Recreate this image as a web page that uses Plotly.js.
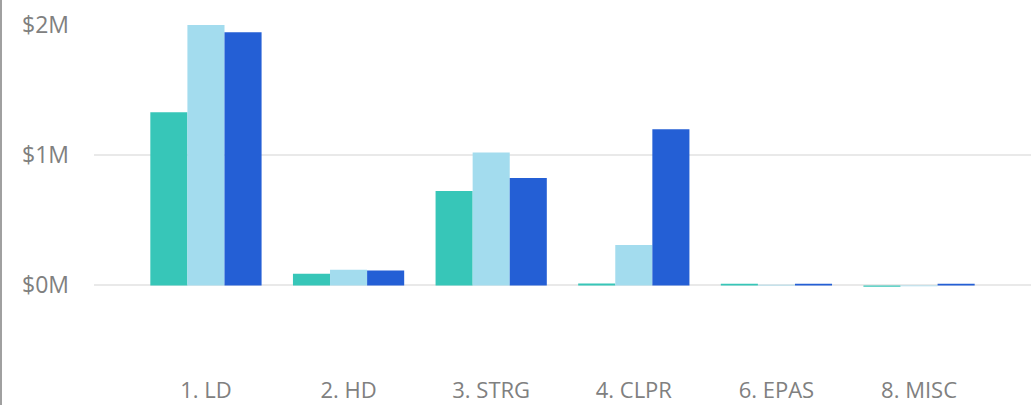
<!DOCTYPE html>
<html>
<head>
<meta charset="utf-8">
<script src="https://cdn.plot.ly/plotly-3.0.1.min.js"></script>
<style>
html,body{margin:0;padding:0;background:#fff;}
#wrap{position:relative;width:1031px;height:405px;overflow:hidden;}
#edge{position:absolute;left:0;top:0;width:2px;height:405px;background:#a0a0a0;}
#chart{position:absolute;left:0;top:0;width:1031px;height:405px;}
</style>
</head>
<body>
<div id="wrap"><div id="chart"></div><div id="edge"></div></div>
<script>
const categories = ["1. LD", "2. HD", "3. STRG", "4. CLPR", "6. EPAS", "8. MISC"];
const seriesA = [1330000, 90000, 725000, 15000, 12000, -10000];
const seriesB = [2000000, 120000, 1020000, 310000, 5000, -6000];
const seriesC = [1945000, 115000, 825000, 1200000, 12000, 12000];
const yTickVals = [0, 1000000, 2000000];
const yTickText = ["$0M", "$1M", "$2M"];

const colors = ["#37C6B8", "#A3DCEE", "#245FD5"];
const names = ["Series A", "Series B", "Series C"];
const data = [seriesA, seriesB, seriesC].map((v, i) => ({
  type: "bar",
  x: categories,
  y: v,
  name: names[i],
  marker: {color: colors[i], line: {width: 0}},
  hoverinfo: "x+y"
}));

const layout = {
  width: 1031,
  height: 405,
  margin: {l: 94, r: 0, t: 25, b: 35},
  paper_bgcolor: "#fff",
  plot_bgcolor: "#fff",
  showlegend: false,
  barmode: "group",
  bargap: 0.22,
  bargroupgap: 0,
  font: {family: "Segoe UI, Open Sans, Noto Sans, sans-serif", color: "#808080", size: 23},
  xaxis: {
    type: "category",
    range: [-0.785, 5.785],
    showgrid: false,
    zeroline: false,
    showline: false,
    ticks: "",
    tickfont: {size: 22, color: "#808080"},
    ticklabelstandoff: 5
  },
  yaxis: {
    range: [-650000, 2000000],
    tickvals: yTickVals,
    ticktext: yTickText,
    showgrid: true,
    gridcolor: "#e9e9e9",
    gridwidth: 2,
    zeroline: true,
    zerolinecolor: "#e9e9e9",
    zerolinewidth: 2,
    showline: false,
    ticks: "",
    tickfont: {size: 23, color: "#808080"},
    ticklabelstandoff: 24
  }
};

Plotly.newPlot("chart", data, layout, {displayModeBar: false, staticPlot: true});
</script>
</body>
</html>
